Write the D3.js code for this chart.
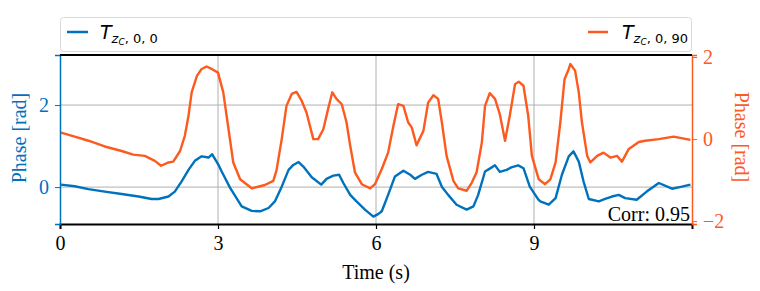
<!DOCTYPE html>
<html>
<head>
<meta charset="utf-8">
<script src="https://cdn.jsdelivr.net/npm/d3@7"></script>
<style>
  body { margin: 0; background: #fff; }
  svg text { font-family: "Liberation Serif", "Times New Roman", serif; }
</style>
</head>
<body>
<script>
const w = 760;
const h = 291;
const margin = {top: 55, right: 68, bottom: 67, left: 60};

const blue = "#0072bd";
const orange = "#fc5a1e";

// T_zc,0,0 (left axis)
const timeA = [0.02, 0.28, 0.54, 0.85, 1.17, 1.49, 1.74, 1.87, 2.06, 2.18, 2.31, 2.44, 2.56, 2.69, 2.82, 2.89, 3.01,
  3.07, 3.23, 3.45, 3.64, 3.80, 3.96, 4.08, 4.21, 4.34, 4.43, 4.53, 4.62, 4.78, 4.96, 5.06, 5.19, 5.30, 5.38, 5.51,
  5.63, 5.79, 5.95, 6.04, 6.11, 6.23, 6.36, 6.52, 6.65, 6.74, 6.87, 6.99, 7.15, 7.25, 7.37, 7.53, 7.72, 7.85, 7.94,
  8.07, 8.16, 8.26, 8.35, 8.48, 8.57, 8.70, 8.80, 8.92, 9.08, 9.12, 9.28, 9.41, 9.53, 9.66, 9.75, 9.85, 9.94, 10.04,
  10.23, 10.35, 10.48, 10.61, 10.73, 10.95, 11.14, 11.37, 11.62, 11.81, 11.97];
const phaseA = [0.06, 0.02, -0.05, -0.11, -0.17, -0.23, -0.29, -0.29, -0.23, -0.11, 0.14, 0.42, 0.64, 0.75, 0.72, 0.80, 0.54,
  0.38, -0.02, -0.47, -0.58, -0.59, -0.51, -0.35, 0.01, 0.42, 0.54, 0.61, 0.50, 0.24, 0.06, 0.20, 0.28, 0.30, 0.10, -0.19,
  -0.35, -0.55, -0.72, -0.66, -0.59, -0.19, 0.26, 0.40, 0.30, 0.20, 0.30, 0.37, 0.32, 0.01, -0.19, -0.43, -0.55, -0.47, -0.19,
  0.38, 0.45, 0.53, 0.37, 0.42, 0.48, 0.53, 0.46, 0.01, -0.30, -0.35, -0.43, -0.27, 0.30, 0.75, 0.87, 0.62, 0.14, -0.29,
  -0.35, -0.29, -0.23, -0.19, -0.27, -0.31, -0.11, 0.10, -0.04, 0.01, 0.06];

// T_zc,0,90 (right axis)
const timeB = [0.02, 0.28, 0.54, 0.85, 1.17, 1.39, 1.61, 1.80, 1.92, 2.06, 2.15, 2.28, 2.37, 2.44, 2.50, 2.60, 2.69, 2.78, 2.88,
  3.00, 3.10, 3.20, 3.29, 3.42, 3.64, 3.89, 4.05, 4.11, 4.21, 4.30, 4.40, 4.49, 4.59, 4.68, 4.81, 4.90, 5.00, 5.09, 5.17,
  5.25, 5.35, 5.44, 5.51, 5.60, 5.73, 5.89, 5.98, 6.11, 6.23, 6.33, 6.42, 6.52, 6.61, 6.68, 6.77, 6.90, 6.99, 7.09, 7.18,
  7.25, 7.34, 7.47, 7.56, 7.72, 7.82, 7.91, 8.01, 8.07, 8.16, 8.26, 8.35, 8.45, 8.54, 8.64, 8.71, 8.80, 8.89, 8.96, 9.09,
  9.21, 9.31, 9.41, 9.50, 9.58, 9.66, 9.69, 9.78, 9.85, 9.91, 10.01, 10.07, 10.20, 10.32, 10.45, 10.58, 10.67, 10.80,
  10.99, 11.11, 11.37, 11.65, 11.97];
const phaseB = [0.16, 0.06, -0.04, -0.18, -0.29, -0.38, -0.41, -0.53, -0.65, -0.57, -0.55, -0.29, 0.08, 0.57, 1.14, 1.54, 1.71, 1.77, 1.71,
  1.62, 1.14, 0.24, -0.57, -0.98, -1.20, -1.12, -1.02, -0.77, 0.00, 0.81, 1.10, 1.15, 0.93, 0.65, 0.00, 0.00, 0.24, 0.73, 1.14,
  0.98, 0.85, 0.41, -0.16, -0.81, -1.10, -1.20, -1.10, -0.73, -0.33, 0.32, 0.85, 0.81, 0.41, 0.28, -0.15, 0.20, 0.89, 1.07, 0.98,
  0.41, -0.41, -1.02, -1.20, -1.26, -1.06, -0.81, -0.08, 0.81, 1.12, 0.98, 0.61, -0.04, 0.57, 1.34, 1.40, 1.30, 0.57, -0.41, -0.98,
  -1.10, -0.98, -0.57, 0.41, 1.46, 1.71, 1.83, 1.67, 1.14, 0.41, -0.41, -0.57, -0.41, -0.33, -0.45, -0.41, -0.55, -0.24,
  -0.07, -0.04, 0.00, 0.06, -0.02];

const xTicks = [0, 3, 6, 9];
const leftTicks = [0, 2];
const rightTicks = [-2, 0, 2];
const corr = 0.95;

const seriesA = timeA.map((t, i) => [t, phaseA[i]]);
const seriesB = timeB.map((t, i) => [t, phaseB[i]]);

const xScale = d3.scaleLinear().domain([0, 12]).range([margin.left, w - margin.right]);
const yLeft = d3.scaleLinear().domain([-0.9, 3.22]).range([h - margin.bottom, margin.top]);
const yRight = d3.scaleLinear().domain([-2.07, 2.05]).range([h - margin.bottom, margin.top]);

const svg = d3.select("body").append("svg").attr("width", w).attr("height", h);

const x0 = margin.left, x1 = w - margin.right, yTop = margin.top, yBot = h - margin.bottom;
const fmt = d => d < 0 ? "\u2212" + Math.abs(d) : String(d);

// grid
svg.append("g").selectAll("line").data(xTicks.slice(1)).enter().append("line")
  .attr("x1", d => xScale(d)).attr("x2", d => xScale(d))
  .attr("y1", yTop).attr("y2", yBot)
  .attr("stroke", "#b0b0b0").attr("stroke-width", 1);
svg.append("g").selectAll("line").data(leftTicks).enter().append("line")
  .attr("x1", x0).attr("x2", x1)
  .attr("y1", d => yLeft(d)).attr("y2", d => yLeft(d))
  .attr("stroke", "#b0b0b0").attr("stroke-width", 1);

// lines
svg.append("clipPath").attr("id", "plot-area").append("rect")
  .attr("x", x0).attr("y", yTop).attr("width", x1 - x0).attr("height", yBot - yTop);

svg.append("path").datum(seriesB)
  .attr("clip-path", "url(#plot-area)")
  .attr("fill", "none").attr("stroke", orange).attr("stroke-width", 2.4)
  .attr("stroke-linejoin", "round")
  .attr("d", d3.line().x(d => xScale(d[0])).y(d => yRight(d[1])));

svg.append("path").datum(seriesA)
  .attr("clip-path", "url(#plot-area)")
  .attr("fill", "none").attr("stroke", blue).attr("stroke-width", 2.4)
  .attr("stroke-linejoin", "round")
  .attr("d", d3.line().x(d => xScale(d[0])).y(d => yLeft(d[1])));

// axes
const xAxis = svg.append("g").attr("transform", `translate(0, ${yBot})`)
  .call(d3.axisBottom(xScale).tickValues(xTicks).tickSize(5).tickPadding(7).tickFormat(fmt));
xAxis.select(".domain").attr("stroke", "#000").attr("stroke-width", 2);
xAxis.selectAll(".tick line").attr("stroke", "#000").attr("stroke-width", 1.2);
xAxis.selectAll("text").attr("font-size", 20).attr("fill", "#000")
  .style("font-family", "'Liberation Serif', serif");

const leftAxis = svg.append("g").attr("transform", `translate(${x0}, 0)`)
  .call(d3.axisLeft(yLeft).tickValues(leftTicks).tickSize(5).tickPadding(6).tickFormat(fmt));
leftAxis.select(".domain").attr("stroke", blue).attr("stroke-width", 1.5);
leftAxis.selectAll(".tick line").attr("stroke", blue);
leftAxis.selectAll("text").attr("font-size", 20).attr("fill", blue)
  .style("font-family", "'Liberation Serif', serif");

const rightAxis = svg.append("g").attr("transform", `translate(${x1}, 0)`)
  .call(d3.axisRight(yRight).tickValues(rightTicks).tickSize(5).tickPadding(6).tickFormat(fmt));
rightAxis.select(".domain").attr("stroke", orange).attr("stroke-width", 1.5);
rightAxis.selectAll(".tick line").attr("stroke", orange);
rightAxis.selectAll("text").attr("font-size", 20).attr("fill", orange)
  .style("font-family", "'Liberation Serif', serif");

// top spine
svg.append("line").attr("x1", x0).attr("x2", x1).attr("y1", yTop).attr("y2", yTop)
  .attr("stroke", "#000").attr("stroke-width", 2);

// axis labels
svg.append("text").attr("x", (x0 + x1) / 2).attr("y", 279)
  .attr("text-anchor", "middle").attr("font-size", 20).text("Time (s)");
svg.append("text").attr("transform", `translate(26, 138) rotate(-90)`)
  .attr("text-anchor", "middle").attr("font-size", 20).attr("fill", blue).text("Phase [rad]");
svg.append("text").attr("transform", `translate(735, 137) rotate(90)`)
  .attr("text-anchor", "middle").attr("font-size", 20).attr("fill", orange).text("Phase [rad]");

// correlation
svg.append("text").attr("x", x1 - 2).attr("y", yBot - 3)
  .attr("text-anchor", "end").attr("font-size", 20).attr("fill", "#000")
  .text(`Corr: ${corr.toFixed(2)}`);

// legend
const legend = svg.append("g");
legend.append("rect").attr("x", x0 + 0.5).attr("y", 17.5).attr("width", x1 - x0 - 1).attr("height", 34)
  .attr("rx", 3).attr("fill", "#fff").attr("stroke", "#d8d8d8");

function legendLabel(g, x, sub) {
  const t = g.append("text").attr("x", x).attr("y", 39)
    .style("font-family", "'DejaVu Sans', sans-serif").attr("font-size", 19);
  t.append("tspan").attr("font-style", "italic").text("T");
  t.append("tspan").attr("font-size", 13).attr("font-style", "italic").attr("dy", 4).text("z");
  t.append("tspan").attr("font-size", 9).attr("font-style", "italic").attr("dy", 2).text("C");
  t.append("tspan").attr("font-size", 13).attr("dy", -2).text(sub);
}
legend.append("line").attr("x1", 67).attr("x2", 88).attr("y1", 32).attr("y2", 32)
  .attr("stroke", blue).attr("stroke-width", 2.5);
legendLabel(legend, 100, ", 0, 0");
legend.append("line").attr("x1", 588).attr("x2", 608).attr("y1", 32).attr("y2", 32)
  .attr("stroke", orange).attr("stroke-width", 2.5);
legendLabel(legend, 622, ", 0, 90");
</script>
</body>
</html>
